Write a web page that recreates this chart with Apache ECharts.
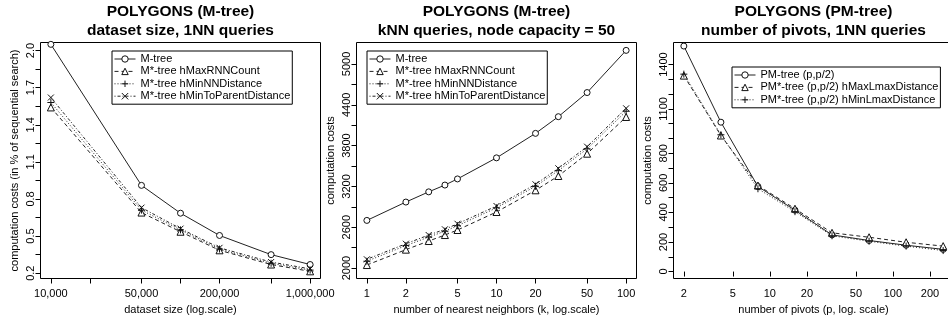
<!DOCTYPE html>
<html><head><meta charset="utf-8">
<script src="https://cdn.jsdelivr.net/npm/echarts@6/dist/echarts.min.js"></script>
<style>html,body{margin:0;padding:0;background:#fff}#c{width:948px;height:320px}</style>
</head><body><div id="c"></div>
<script>
// ---------------- data ----------------
const titles = [
  'POLYGONS (M-tree)\ndataset size, 1NN queries',
  'POLYGONS (M-tree)\nkNN queries, node capacity = 50',
  'POLYGONS (PM-tree)\nnumber of pivots, 1NN queries'
];
const xNames = ['dataset size (log.scale)', 'number of nearest neighbors (k, log.scale)', 'number of pivots (p, log. scale)'];
const yNames = ['computation costs (in % of sequential search)', 'computation costs', 'computation costs'];

const mNames = ['M-tree', 'M*-tree hMaxRNNCount', 'M*-tree hMinNNDistance', 'M*-tree hMinToParentDistance'];
const pmNames = ['PM-tree (p,p/2)', 'PM*-tree (p,p/2) hMaxLmaxDistance', 'PM*-tree (p,p/2) hMinLmaxDistance'];

// panel 1
const p1Sizes = [10000, 50000, 100000, 200000, 500000, 1000000];
const p1MTree = [2.05, 0.91, 0.685, 0.505, 0.35, 0.27];
const p1MaxRNN = [1.54, 0.69, 0.535, 0.385, 0.27, 0.215];
const p1MinNN = [1.58, 0.71, 0.55, 0.395, 0.28, 0.225];
const p1MinParent = [1.62, 0.73, 0.56, 0.405, 0.29, 0.235];
const p1XTicks = [10000, 20000, 50000, 100000, 200000, 500000, 1000000];
const p1XLabels = [10000, 50000, 200000, 1000000];
const p1YTicks = [0.2, 0.35, 0.5, 0.65, 0.8, 0.95, 1.1, 1.25, 1.4, 1.55, 1.7, 1.85, 2.0];
const p1YLabels = [0.2, 0.5, 0.8, 1.1, 1.4, 1.7, 2.0];

// panel 2
const p2K = [1, 2, 3, 4, 5, 10, 20, 30, 50, 100];
const p2MTree = [2700, 2970, 3120, 3220, 3310, 3620, 3980, 4225, 4580, 5200];
const p2MaxRNN = [2044, 2270, 2397, 2485, 2559, 2824, 3143, 3353, 3681, 4221];
const p2MinNN = [2100, 2330, 2455, 2542, 2622, 2885, 3202, 3432, 3752, 4305];
const p2MinParent = [2128, 2357, 2485, 2569, 2651, 2912, 3231, 3466, 3784, 4348];
const p2XTicks = [1, 2, 5, 10, 20, 50, 100];
const p2XLabels = [1, 2, 5, 10, 20, 50, 100];
const p2YTicks = [2000, 2300, 2600, 2900, 3200, 3500, 3800, 4100, 4400, 4700, 5000];
const p2YLabels = [2000, 2600, 3200, 3800, 4400, 5000];

// panel 3
const p3P = [2, 4, 8, 16, 32, 64, 128, 256];
const p3PM = [1525, 1010, 575, 415, 248, 210, 178, 150];
const p3MaxL = [1325, 920, 582, 425, 262, 232, 198, 172];
const p3MinL = [1335, 925, 560, 405, 242, 205, 172, 142];
const p3XTicks = [2, 5, 10, 20, 50, 100, 200];
const p3XLabels = [2, 5, 10, 20, 50, 100, 200];
const p3YTicks = [0, 100, 200, 300, 400, 500, 600, 700, 800, 900, 1000, 1100, 1200, 1300, 1400];
const p3YLabels = [0, 200, 400, 600, 800, 1100, 1400];

// ---------------- layout / style ----------------
const FONT = '"Liberation Sans", Arial, Helvetica, sans-serif';
const grids = [
  {left: 40.5, top: 42.5, width: 280, height: 236},
  {left: 356.5, top: 42.5, width: 280, height: 236},
  {left: 673.5, top: 42.5, width: 280, height: 236}
];
const xRanges = [[8317.6, 1202264], [0.8318, 120.23], [1.648, 310.6]];
const yRanges = [[0.157, 2.065], [1846, 5316], [-47, 1549]];

const SYM = {
  circle: 'circle',
  triangle: 'triangle',
  plus: 'path://M5,0L5,10M0,5L10,5',
  cross: 'path://M0,0L10,10M10,0L0,10'
};
const DASH = {solid: 'solid', dashed: [4, 3], dotted: [1, 2], dotdash: [1, 2, 3, 2]};

function series(name, gi, xs, ys, sym, dash, size) {
  return {
    type: 'line', name: name, xAxisIndex: gi, yAxisIndex: gi,
    data: xs.map((x, i) => [x, ys[i]]),
    symbol: SYM[sym], symbolSize: size, showSymbol: true,
    lineStyle: {color: '#222', width: 1, type: DASH[dash]},
    itemStyle: {color: '#fff', borderColor: '#111', borderWidth: 1},
    emphasis: {disabled: true}, silent: true, animation: false
  };
}

const fmtComma = v => Math.round(v).toLocaleString('en-US');
const xTicks = [p1XTicks, p2XTicks, p3XTicks];
const xLabels = [p1XLabels, p2XLabels, p3XLabels];
const yTicks = [p1YTicks, p2YTicks, p3YTicks];
const yLabels = [p1YLabels, p2YLabels, p3YLabels];
const xFmt = [fmtComma, v => String(Math.round(v)), v => String(Math.round(v))];
const yFmt = [v => v.toFixed(1), v => String(Math.round(v)), v => String(Math.round(v))];

const textBase = {color: '#000', fontFamily: FONT, fontSize: 11};

const option = {
  animation: false,
  backgroundColor: '#fff',
  title: grids.map((g, i) => ({
    text: titles[i], left: g.left + g.width / 2, top: 2, textAlign: 'center', padding: 0,
    textStyle: {fontFamily: FONT, fontSize: 15.5, fontWeight: 'bold', color: '#000', lineHeight: 19}
  })),
  grid: grids.map(g => Object.assign({show: true, borderColor: '#000', borderWidth: 1,
    backgroundColor: 'transparent', containLabel: false, outerBoundsMode: 'none'}, g)),
  xAxis: grids.map((g, i) => ({
    type: 'log', logBase: 10, gridIndex: i, min: xRanges[i][0], max: xRanges[i][1],
    axisLine: {show: false},
    axisTick: {show: true, length: 5, customValues: xTicks[i], lineStyle: {color: '#000', width: 1}},
    axisLabel: Object.assign({customValues: xLabels[i], formatter: xFmt[i], margin: 10}, textBase),
    splitLine: {show: false}, minorTick: {show: false}, minorSplitLine: {show: false},
    name: xNames[i], nameLocation: 'middle', nameGap: 23, nameTextStyle: textBase
  })),
  yAxis: grids.map((g, i) => ({
    type: 'value', gridIndex: i, min: yRanges[i][0], max: yRanges[i][1],
    axisLine: {show: false},
    axisTick: {show: true, length: 5, customValues: yTicks[i], lineStyle: {color: '#000', width: 1}},
    axisLabel: Object.assign({customValues: yLabels[i], formatter: yFmt[i], rotate: 90, margin: 4}, textBase),
    splitLine: {show: false},
    name: yNames[i], nameLocation: 'middle', nameGap: 20, nameTextStyle: textBase
  })),
  legend: [
    {left: 112, top: 51, names: mNames},
    {left: 367, top: 51, names: mNames},
    {left: 732, top: 67, names: pmNames}
  ].map(l => ({
    orient: 'vertical', left: l.left, top: l.top, data: l.names, selectedMode: false,
    padding: [2, 2, 2, 2], itemWidth: 21, itemHeight: 8, itemGap: 0.4,
    borderColor: '#000', borderWidth: 1, backgroundColor: '#fff',
    lineStyle: {width: 1},
    itemStyle: {borderWidth: 1},
    textStyle: Object.assign({lineHeight: 12}, textBase)
  })),
  series: [
    series(mNames[0], 0, p1Sizes, p1MTree, 'circle', 'solid', 6),
    series(mNames[1], 0, p1Sizes, p1MaxRNN, 'triangle', 'dashed', 7),
    series(mNames[2], 0, p1Sizes, p1MinNN, 'plus', 'dotted', 7),
    series(mNames[3], 0, p1Sizes, p1MinParent, 'cross', 'dotdash', 6),
    series(mNames[0], 1, p2K, p2MTree, 'circle', 'solid', 6),
    series(mNames[1], 1, p2K, p2MaxRNN, 'triangle', 'dashed', 7),
    series(mNames[2], 1, p2K, p2MinNN, 'plus', 'dotted', 7),
    series(mNames[3], 1, p2K, p2MinParent, 'cross', 'dotdash', 6),
    series(pmNames[0], 2, p3P, p3PM, 'circle', 'solid', 6),
    series(pmNames[1], 2, p3P, p3MaxL, 'triangle', 'dashed', 7),
    series(pmNames[2], 2, p3P, p3MinL, 'plus', 'dotted', 7)
  ]
};

const chart = echarts.init(document.getElementById('c'), null, {renderer: 'canvas'});
chart.setOption(option);
</script></body></html>
